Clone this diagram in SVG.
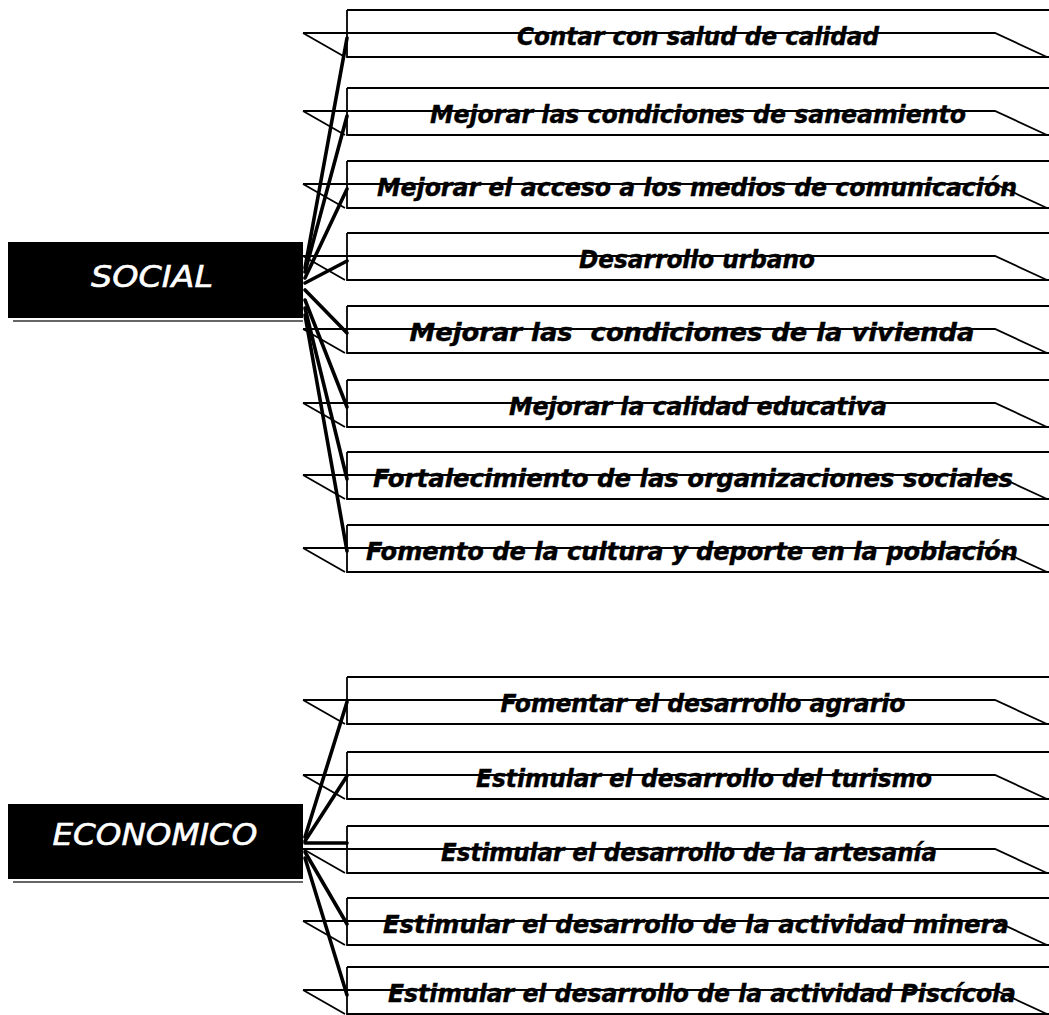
<svg xmlns="http://www.w3.org/2000/svg" xmlns:xlink="http://www.w3.org/1999/xlink" width="1049" height="1015" viewBox="0 0 1049 1015">
<style>
.rib{fill:none;stroke:#000;stroke-width:1.8}
.conn line{stroke:#000;stroke-width:3.6;stroke-linecap:round}
.item{font-family:"DejaVu Sans",Verdana,sans-serif;font-weight:bold;font-style:italic;font-size:24px;fill:#000;stroke:#000;stroke-width:0.4;text-anchor:middle}
.cat{font-family:"DejaVu Sans",Verdana,sans-serif;font-style:italic;font-size:31px;fill:#fff;stroke:#fff;stroke-width:0.6;text-anchor:middle}
.shadow{stroke:#666;stroke-width:2}
</style>
<defs>
<path id="ribbon" class="rib" d="M347,0 H1049 M347,0 V47 H1049 M303,23 H995 L1047,47 M303,23 L345,47"/>
</defs>
<rect width="1049" height="1015" fill="#fff"/>

<g id="connectors" class="conn">
<line x1="305" y1="268" x2="347" y2="38"/>
<line x1="305" y1="272" x2="347" y2="116"/>
<line x1="305" y1="278" x2="347" y2="189"/>
<line x1="305" y1="283" x2="347" y2="261"/>
<line x1="305" y1="290" x2="347" y2="333"/>
<line x1="305" y1="300" x2="347" y2="407"/>
<line x1="305" y1="308" x2="347" y2="479"/>
<line x1="305" y1="315" x2="347" y2="551"/>
<line x1="305" y1="837" x2="347" y2="702"/>
<line x1="305" y1="841" x2="347" y2="776"/>
<line x1="305" y1="843" x2="347" y2="843"/>
<line x1="305" y1="852" x2="347" y2="924"/>
<line x1="305" y1="858" x2="347" y2="995"/>
</g>

<g id="social">
<rect x="8" y="242" width="295" height="76" fill="#000"/>
<line class="shadow" x1="13" y1="321" x2="303" y2="321"/>
<text class="cat" x="152" y="287" textLength="122" lengthAdjust="spacingAndGlyphs">SOCIAL</text>
</g>
<g id="economico">
<rect x="8" y="804" width="295" height="75" fill="#000"/>
<line class="shadow" x1="13" y1="882" x2="303" y2="882"/>
<text class="cat" x="155" y="845" textLength="205" lengthAdjust="spacingAndGlyphs">ECONOMICO</text>
</g>

<g id="s1"><use xlink:href="#ribbon" y="10"/><text class="item" x="698" y="45" textLength="362" lengthAdjust="spacingAndGlyphs">Contar con salud de calidad</text></g>
<g id="s2"><use xlink:href="#ribbon" y="88"/><text class="item" x="698" y="123" textLength="536" lengthAdjust="spacingAndGlyphs">Mejorar las condiciones de saneamiento</text></g>
<g id="s3"><use xlink:href="#ribbon" y="161"/><text class="item" x="697" y="196" textLength="640" lengthAdjust="spacingAndGlyphs">Mejorar el acceso a los medios de comunicación</text></g>
<g id="s4"><use xlink:href="#ribbon" y="233"/><text class="item" x="697" y="268" textLength="236" lengthAdjust="spacingAndGlyphs">Desarrollo urbano</text></g>
<g id="s5"><use xlink:href="#ribbon" y="306"/><text class="item" x="692" y="341" xml:space="preserve" textLength="565" lengthAdjust="spacingAndGlyphs">Mejorar las  condiciones de la vivienda</text></g>
<g id="s6"><use xlink:href="#ribbon" y="380"/><text class="item" x="698" y="415" textLength="378" lengthAdjust="spacingAndGlyphs">Mejorar la calidad educativa</text></g>
<g id="s7"><use xlink:href="#ribbon" y="452"/><text class="item" x="693" y="487" textLength="640" lengthAdjust="spacingAndGlyphs">Fortalecimiento de las organizaciones sociales</text></g>
<g id="s8"><use xlink:href="#ribbon" y="525"/><text class="item" x="692" y="560" textLength="652" lengthAdjust="spacingAndGlyphs">Fomento de la cultura y deporte en la población</text></g>

<g id="e1"><use xlink:href="#ribbon" y="677"/><text class="item" x="703" y="712" textLength="405" lengthAdjust="spacingAndGlyphs">Fomentar el desarrollo agrario</text></g>
<g id="e2"><use xlink:href="#ribbon" y="752"/><text class="item" x="704" y="787" textLength="456" lengthAdjust="spacingAndGlyphs">Estimular el desarrollo del turismo</text></g>
<g id="e3"><use xlink:href="#ribbon" y="826"/><text class="item" x="689" y="861" textLength="496" lengthAdjust="spacingAndGlyphs">Estimular el desarrollo de la artesanía</text></g>
<g id="e4"><use xlink:href="#ribbon" y="898"/><text class="item" x="696" y="933" textLength="626" lengthAdjust="spacingAndGlyphs">Estimular el desarrollo de la actividad minera</text></g>
<g id="e5"><use xlink:href="#ribbon" y="967"/><text class="item" x="702" y="1002" textLength="628" lengthAdjust="spacingAndGlyphs">Estimular el desarrollo de la actividad Piscícola</text></g>
</svg>
